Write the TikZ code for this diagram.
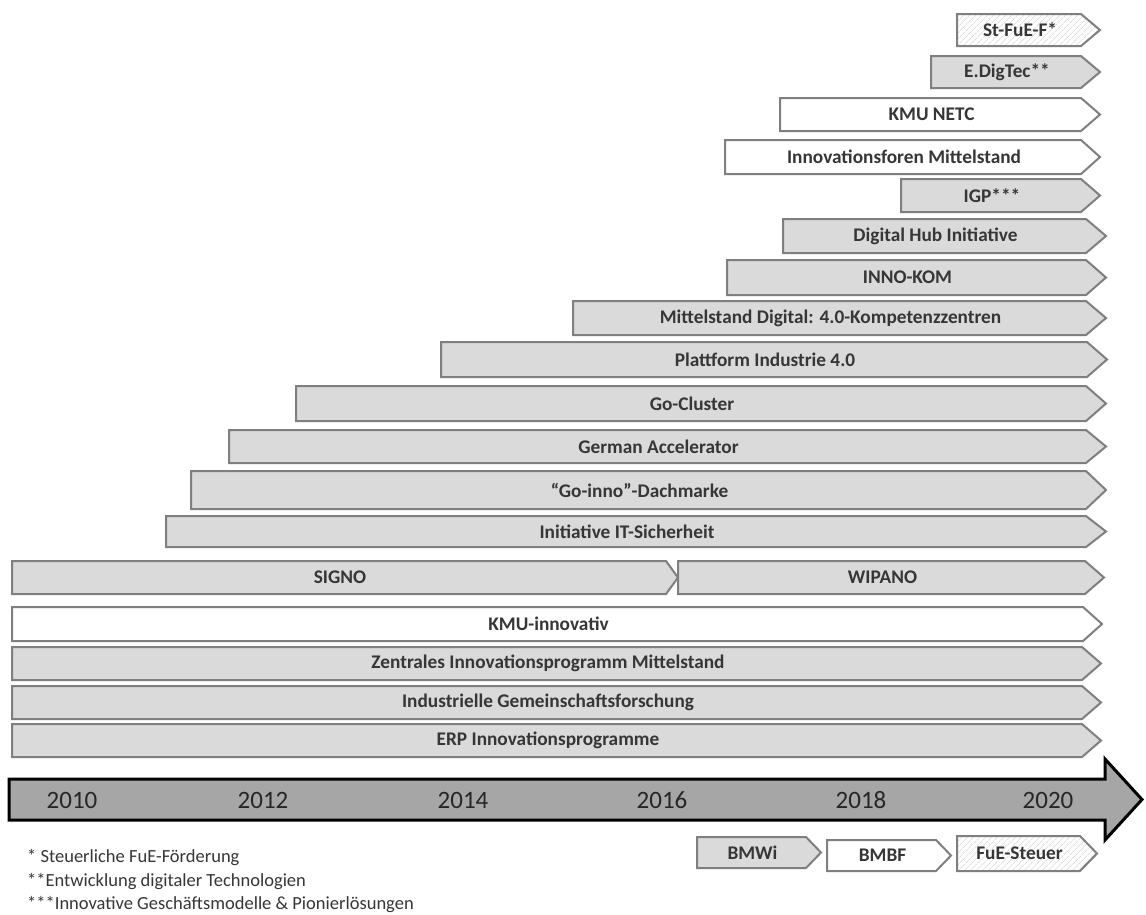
\documentclass[tikz,border=0pt]{standalone}
\usepackage{fontspec}
\setmainfont{Carlito}
\usetikzlibrary{patterns.meta}
\definecolor{boxgray}{HTML}{DADADA}
\definecolor{edgegray}{HTML}{7F7F7F}
\definecolor{tlgray}{HTML}{A6A6A6}
\definecolor{txtgray}{HTML}{363636}
\definecolor{hatchgray}{HTML}{CCCCCC}
\tikzset{
  graybox/.style={draw=edgegray, line width=2pt, fill=boxgray, line join=miter},
  whitebox/.style={draw=edgegray, line width=2pt, fill=white, line join=miter},
  hatchbox/.style={draw=edgegray, line width=2pt, line join=miter, pattern={Lines[angle=45,distance=4pt,line width=0.5pt]}, pattern color=hatchgray},
  lbl/.style={font=\bfseries\fontsize{19.3}{21}\selectfont, text=txtgray, inner sep=0pt},
  yearlbl/.style={font=\fontsize{25}{28}\selectfont, text=black!85, inner sep=0pt},
  notelbl/.style={font=\fontsize{18.5}{20}\selectfont, text=txtgray, inner sep=0pt, anchor=west},
}
% #1 name, #2 style, #3 x left, #4 x tip, #5 y top, #6 y bottom, #7 text, #8 tip depth
\newcommand\chevrow[8]{%
  \draw[#2] (#3,#5) -- ({#4-#8},#5) -- (#4,{(#5+#6)/2}) -- ({#4-#8},#6) -- (#3,#6) -- cycle;
  \node[lbl] (#1) at ({(#3+#4-#8)/2+1},{(#5+#6)/2}) {#7};
}
\begin{document}
\begin{tikzpicture}[x=1pt,y=-1pt]
\fill[white] (0,0) rectangle (1146,914);
\useasboundingbox (0,0) rectangle (1146,914);

\chevrow{stfue}{hatchbox}{957}{1100}{14}{46}{St-FuE-F*}{19}
\chevrow{edig}{graybox}{931}{1100}{56}{88}{E.DigTec**}{19}
\chevrow{netc}{whitebox}{780}{1100}{98}{131}{KMU NETC}{19}
\chevrow{ifm}{whitebox}{725}{1100}{140}{174}{Innovationsforen Mittelstand}{19}
\chevrow{igp}{graybox}{901}{1100}{179}{212}{IGP***}{19}
\chevrow{dhi}{graybox}{783}{1106}{219}{253}{Digital Hub Initiative}{20}
\chevrow{inno}{graybox}{727}{1106}{260}{295}{INNO-KOM}{20}
\chevrow{mdig}{graybox}{573}{1106}{301}{335}{Mittelstand Digital: 4.0-Kompetenzzentren}{20}
\chevrow{pind}{graybox}{441}{1107}{342}{377}{Plattform Industrie 4.0}{20}
\chevrow{gocl}{graybox}{296}{1106}{386}{421}{Go-Cluster}{20}
\chevrow{gacc}{graybox}{229}{1106}{430}{463}{German Accelerator}{20}
\chevrow{goin}{graybox}{191}{1106}{471}{509}{``Go-inno''-Dachmarke}{20}
\chevrow{itsi}{graybox}{166}{1106}{516}{547}{Initiative IT-Sicherheit}{20}
\chevrow{signo}{graybox}{12}{678}{561}{594}{SIGNO}{12}
\chevrow{wipano}{graybox}{678}{1104}{561}{594}{WIPANO}{19}
\chevrow{kmui}{whitebox}{12}{1102}{607}{641}{KMU-innovativ}{19}
\chevrow{zim}{graybox}{12}{1101}{647}{680}{Zentrales Innovationsprogramm Mittelstand}{19}
\chevrow{igf}{graybox}{12}{1101}{686}{719}{Industrielle Gemeinschaftsforschung}{19}
\chevrow{erp}{graybox}{12}{1101}{724}{757}{ERP Innovationsprogramme}{19}

% timeline arrow
\draw[line width=3pt, fill=tlgray, line join=miter] (9,779) -- (1105,779) -- (1105,759) -- (1142,799.5) -- (1105,840) -- (1105,820) -- (9,820) -- cycle;
\node[yearlbl] (y2010) at (72,800) {2010};
\node[yearlbl] (y2012) at (263,800) {2012};
\node[yearlbl] (y2014) at (463,800) {2014};
\node[yearlbl] (y2016) at (662,800) {2016};
\node[yearlbl] (y2018) at (861,800) {2018};
\node[yearlbl] (y2020) at (1048,800) {2020};

% legend
\chevrow{bmwi}{graybox}{697}{821}{837}{868}{BMWi}{15}
\chevrow{bmbf}{whitebox}{827}{951}{840}{871}{BMBF}{15}
\chevrow{fue}{hatchbox}{957}{1097}{836}{871}{FuE-Steuer}{17}

% footnotes
\node[notelbl] (n1) at (27,858) {* Steuerliche FuE-Förderung};
\node[notelbl] (n2) at (27,882) {**Entwicklung digitaler Technologien};
\node[notelbl] (n3) at (27,905) {***Innovative Geschäftsmodelle \& Pionierlösungen};
\end{tikzpicture}
\end{document}
